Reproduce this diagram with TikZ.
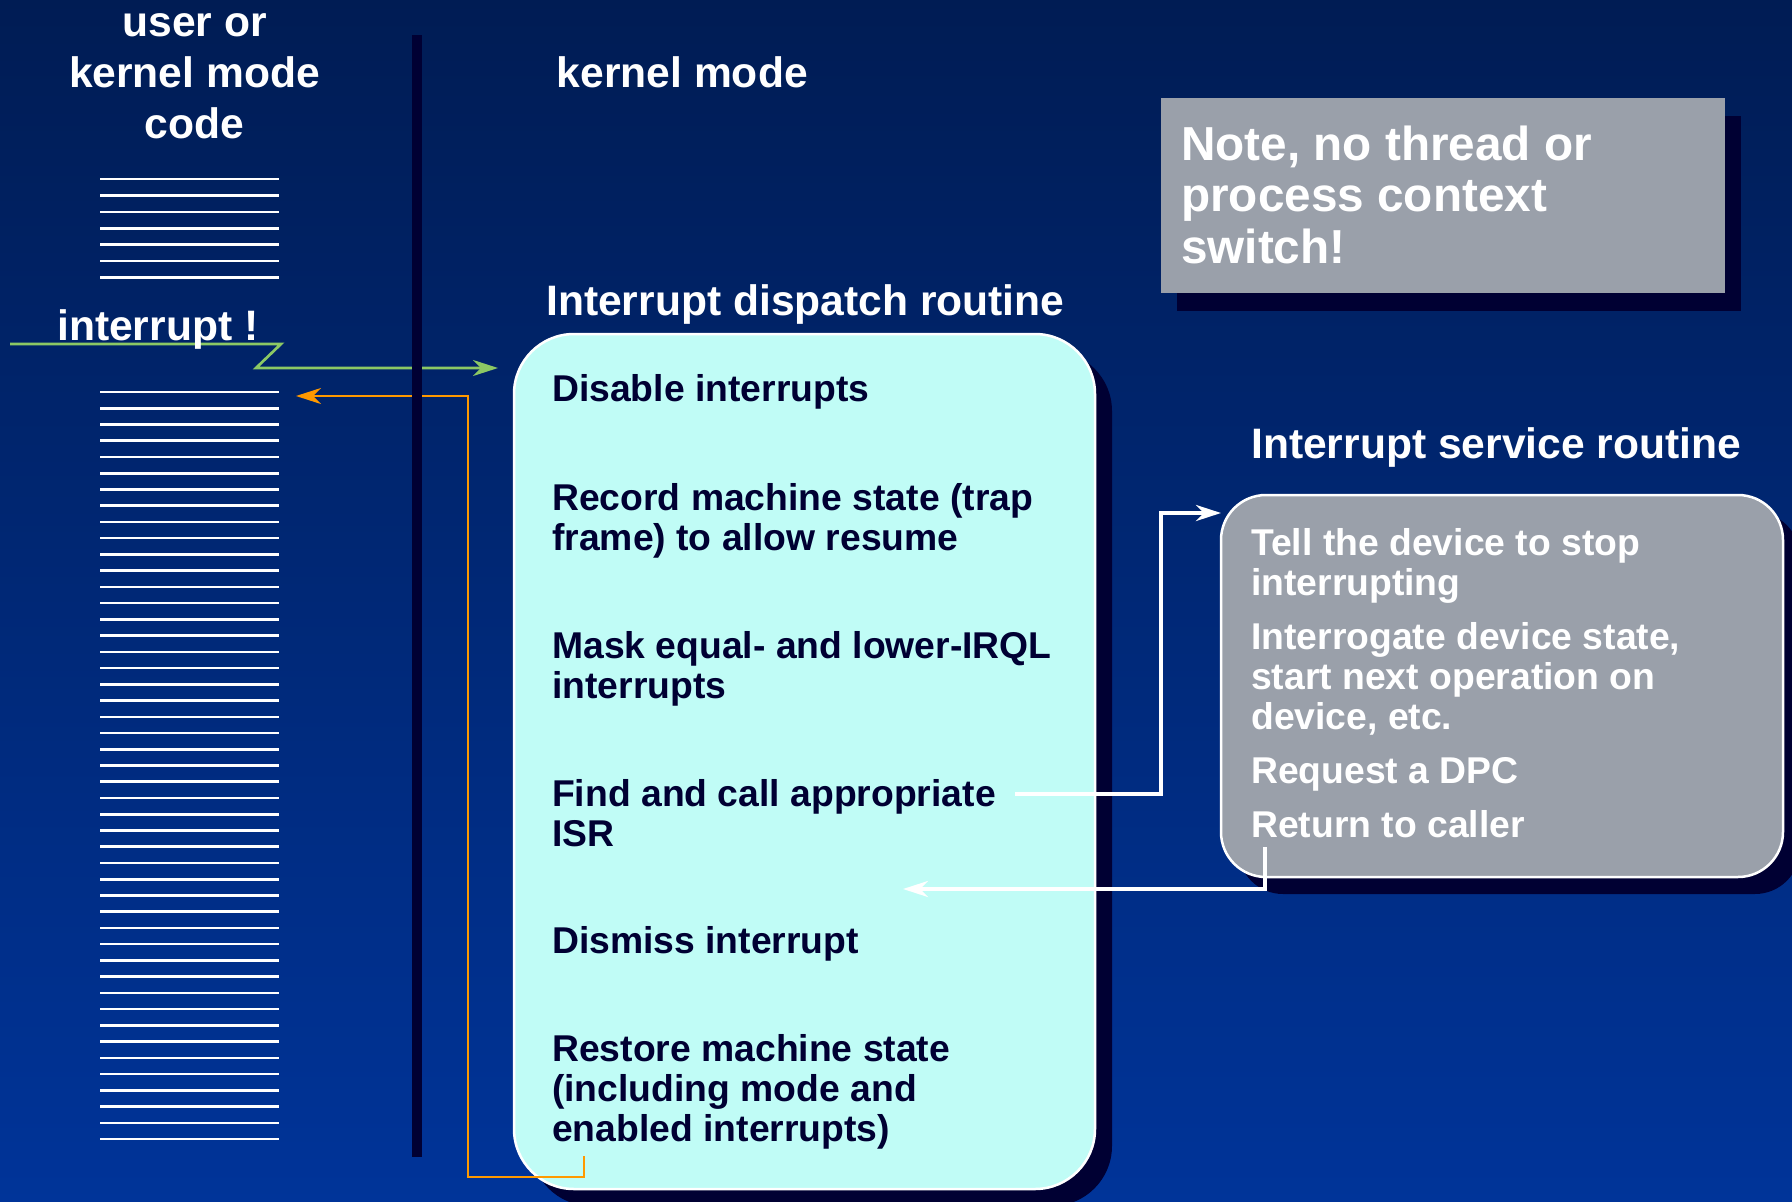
\documentclass[tikz,border=0pt]{standalone}
\usepackage{fontspec}
\setmainfont{Liberation Sans}
\usetikzlibrary{arrows.meta,shadows}

\definecolor{bgtop}{RGB}{0,28,84}
\definecolor{bgbot}{RGB}{0,52,153}
\definecolor{shadowc}{RGB}{0,0,51}
\definecolor{cyanbox}{RGB}{192,252,246}
\definecolor{greybox}{RGB}{154,160,170}
\definecolor{navytext}{RGB}{0,0,51}
\definecolor{greenl}{RGB}{140,200,100}
\definecolor{orangel}{RGB}{255,153,0}

\begin{document}
\begin{tikzpicture}[x=1pt,y=-1pt,
  hdr/.style={inner sep=0pt, text=white, font=\fontsize{42.6}{51}\selectfont\bfseries},
  item/.style={inner sep=0pt, anchor=base west, align=left, text=navytext, font=\fontsize{37.3}{40}\selectfont\bfseries},
  isritem/.style={inner sep=0pt, anchor=base west, align=left, text=white, font=\fontsize{37.3}{40}\selectfont\bfseries},
  notetext/.style={inner sep=0pt, anchor=base west, align=left, text=white, font=\fontsize{47.7}{51.5}\selectfont\bfseries},
  codeline/.style={draw=white, line width=2.6pt},
  tip/.style={-{Stealth[length=25pt,width=16pt,inset=8pt]}},
  greenarrow/.style={draw=greenl, line width=2.7pt, tip},
  orangearrow/.style={draw=orangel, line width=2.7pt, tip},
  whitearrow/.style={draw=white, line width=4pt, tip},
  dshadow/.style={drop shadow={shadow xshift=17pt, shadow yshift=-17pt, fill=shadowc, opacity=1}},
  roundbox/.style={draw=white, line width=2.5pt, inner sep=0pt, dshadow}
]
\useasboundingbox (0,0) rectangle (1792,1202);
\shade[top color=bgtop, bottom color=bgbot] (0,0) rectangle (1792,1202);

% boxes
\node[roundbox, fill=cyanbox, rounded corners=60pt, minimum width=581pt, minimum height=855pt] (disp) at (804.5,761.5) {};
\node[roundbox, fill=greybox, rounded corners=45pt, minimum width=562pt, minimum height=382pt] (isr) at (1502,686) {};
\node[fill=greybox, inner sep=0pt, minimum width=564pt, minimum height=195pt,
      drop shadow={shadow xshift=16pt, shadow yshift=-18pt, fill=shadowc, opacity=1}] (note) at (1443,195.5) {};

% code lines
\foreach \i in {0,...,6}
  \draw[codeline] (100,{179+16.4*\i}) -- (279,{179+16.4*\i});
\foreach \i in {0,...,46}
  \draw[codeline] (100,{392+16.24*\i}) -- (279,{392+16.24*\i});

% connectors
\coordinate (gs) at (10,344);
\coordinate (gt) at (498,368);
\draw[greenarrow] (gs) -- (281,344) -- (256,368) -- (gt);

\coordinate (os) at (584,1156);
\coordinate (ot) at (296,396);
\draw[orangearrow] (os) -- (584,1177) -- (468,1177) -- (468,396) -- (ot);

% kernel boundary bar
\fill[shadowc] (412,35) rectangle (422,1157);

% headers (multi-line nodes: base = last line baseline)
\node[hdr, align=center, anchor=base] (hcode) at (194.5,138.7) {user or\\kernel mode\\code};
\node[hdr, anchor=base west] (hkm) at (556.6,87) {kernel mode};
\node[hdr, anchor=base west] (hint) at (57,340) {interrupt !};
\node[hdr, anchor=base west] (hidr) at (546,315) {Interrupt dispatch routine};
\node[hdr, anchor=base west] (hisr) at (1251,458) {Interrupt service routine};

% dispatch items
\node[item] (i1) at (552,401) {Disable interrupts};
\node[item] (i2) at (552,550) {Record machine state (trap\\frame) to allow resume};
\node[item] (i3) at (552,698) {Mask equal- and lower-IRQL\\interrupts};
\node[item] (i4) at (552,846) {Find and call appropriate\\ISR};
\node[item] (i5) at (552,953) {Dismiss interrupt};
\node[item] (i6) at (552,1141) {Restore machine state\\(including mode and\\enabled interrupts)};

% ISR items
\node[isritem] (s1) at (1251,595) {Tell the device to stop\\interrupting};
\node[isritem] (s2) at (1251,729) {Interrogate device state,\\start next operation on\\device, etc.};
\node[isritem] (s3) at (1251,783) {Request a DPC};
\node[isritem] (s4) at (1251,837) {Return to caller};

% note
\node[notetext] (nt) at (1181,263) {Note, no thread or\\process context\\switch!};

% white connectors
\coordinate (fc) at (1015,794);
\coordinate (fa) at (1221,513);
\draw[whitearrow] (fc) -- (1161,794) -- (1161,513) -- (fa);
\coordinate (rs) at (1265,847);
\coordinate (rt) at (903,889);
\draw[whitearrow] (rs) -- (1265,889) -- (rt);
\end{tikzpicture}
\end{document}
